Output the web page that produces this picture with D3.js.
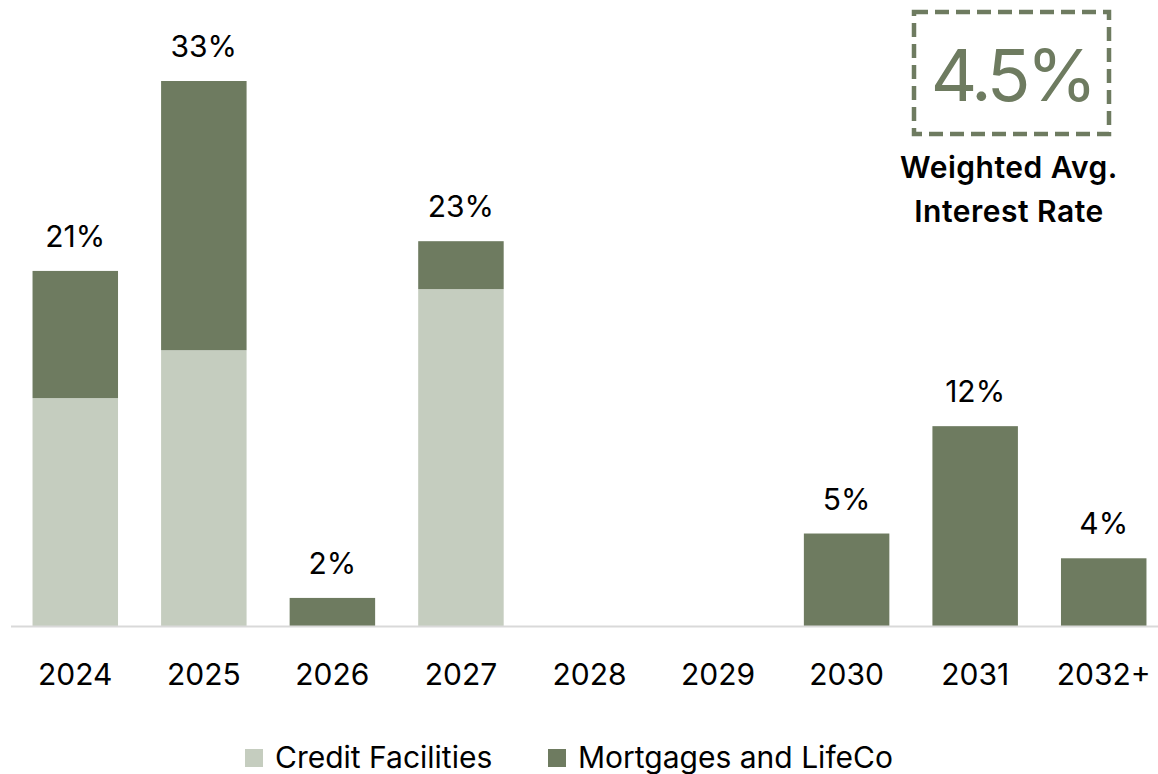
<!DOCTYPE html>
<html>
<head>
<meta charset="utf-8">
<script src="https://cdn.jsdelivr.net/npm/d3@7"></script>
<style>
  body { margin: 0; background: #fff; }
  text { font-family: Inter, "Noto Sans", sans-serif; }
</style>
</head>
<body>
<div id="chart"></div>
<script>
// data
const years = ["2024", "2025", "2026", "2027", "2028", "2029", "2030", "2031", "2032+"];
const creditFacilities = [13.8, 16.7, 0, 20.4, 0, 0, 0, 0, 0];
const mortgagesLifeCo = [7.7, 16.3, 1.7, 2.9, 0, 0, 5.6, 12.1, 4.1];
const totalLabels = ["21%", "33%", "2%", "23%", "", "", "5%", "12%", "4%"];
const seriesNames = ["Credit Facilities", "Mortgages and LifeCo"];
const rateValue = "4.5%";
const rateLabel = ["Weighted Avg.", "Interest Rate"];

const width = 1158, height = 774;
const lightGreen = "#c5cdbf", darkGreen = "#6e7b60";

const svg = d3.select("#chart").append("svg")
    .attr("width", width)
    .attr("height", height);

const rows = years.map((y, i) => ({ year: y, credit: creditFacilities[i], mortgage: mortgagesLifeCo[i], label: totalLabels[i] }));
const stack = d3.stack().keys(["credit", "mortgage"])(rows);

const x = d3.scaleBand()
    .domain(years)
    .range([11, 1168])
    .paddingInner(0.335)
    .paddingOuter(0.1675);

const y = d3.scaleLinear()
    .domain([0, 33])
    .range([626, 81]);

const colors = [lightGreen, darkGreen];

// bars
svg.selectAll("g.layer")
    .data(stack)
    .enter().append("g")
    .attr("class", "layer")
    .attr("fill", (d, i) => colors[i])
    .selectAll("rect")
    .data(d => d)
    .enter().append("rect")
    .attr("x", d => x(d.data.year))
    .attr("y", d => y(d[1]))
    .attr("width", x.bandwidth())
    .attr("height", d => y(d[0]) - y(d[1]));

// baseline
svg.append("line")
    .attr("x1", 11).attr("x2", width)
    .attr("y1", y(0) + 0.5).attr("y2", y(0) + 0.5)
    .attr("stroke", "#d9d9d9")
    .attr("stroke-width", 2);

// total labels
svg.selectAll("text.total")
    .data(rows.filter(d => d.label))
    .enter().append("text")
    .attr("class", "total")
    .attr("x", d => x(d.year) + x.bandwidth() / 2)
    .attr("y", d => y(d.credit + d.mortgage) - 24)
    .attr("text-anchor", "middle")
    .style("font-size", "30px")
    .attr("fill", "#000")
    .text(d => d.label);

// x axis labels
svg.selectAll("text.year")
    .data(years)
    .enter().append("text")
    .attr("class", "year")
    .attr("x", d => x(d) + x.bandwidth() / 2)
    .attr("y", 685)
    .attr("text-anchor", "middle")
    .style("font-size", "30px")
    .attr("fill", "#000")
    .text(d => d);

// weighted avg box
svg.append("rect")
    .attr("x", 914).attr("y", 12)
    .attr("width", 195).attr("height", 122)
    .attr("fill", "none")
    .attr("stroke", darkGreen)
    .attr("stroke-width", 4.5)
    .attr("stroke-dasharray", "14,7");

svg.append("text")
    .attr("x", 1012).attr("y", 101)
    .attr("text-anchor", "middle")
    .style("font-size", "72px")
    .style("letter-spacing", "-4px")
    .attr("fill", darkGreen)
    .text(rateValue);

svg.selectAll("text.rate")
    .data(rateLabel)
    .enter().append("text")
    .attr("class", "rate")
    .attr("x", 1009)
    .attr("y", (d, i) => 178 + i * 44)
    .attr("text-anchor", "middle")
    .style("font-size", "30px")
    .style("font-weight", "600")
    .style("letter-spacing", "0.5px")
    .attr("fill", "#000")
    .text(d => d);

// legend
const legendX = [245, 548];
const legend = svg.selectAll("g.legend")
    .data(seriesNames)
    .enter().append("g")
    .attr("class", "legend")
    .attr("transform", (d, i) => `translate(${legendX[i]},749)`);

legend.append("rect")
    .attr("width", 18).attr("height", 18)
    .attr("fill", (d, i) => colors[i]);

legend.append("text")
    .attr("x", 30).attr("y", 19)
    .style("font-size", "30px")
    .attr("fill", "#000")
    .text(d => d);
</script>
</body>
</html>
